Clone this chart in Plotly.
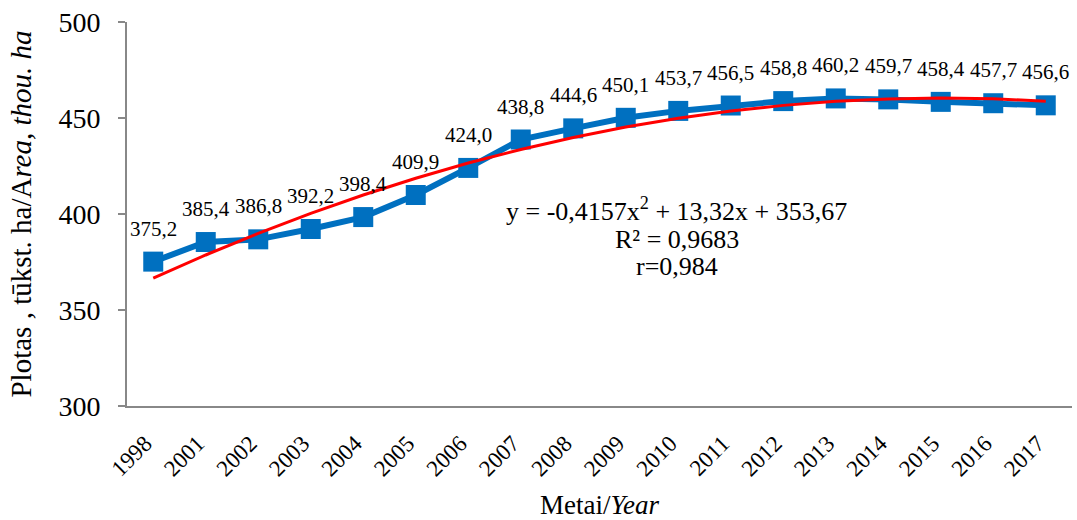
import plotly.graph_objects as go

years = ["1998", "2001", "2002", "2003", "2004", "2005", "2006", "2007", "2008", "2009",
         "2010", "2011", "2012", "2013", "2014", "2015", "2016", "2017"]
area = [375.2, 385.4, 386.8, 392.2, 398.4, 409.9, 424.0, 438.8, 444.6, 450.1,
        453.7, 456.5, 458.8, 460.2, 459.7, 458.4, 457.7, 456.6]
# polynomial trendline coefficients shown on the chart
a2, a1, a0 = -0.4157, 13.32, 353.67
trend = [a2 * (i + 1) ** 2 + a1 * (i + 1) + a0 for i in range(len(years))]
equation_lines = ["y = -0,4157x<sup>2</sup> + 13,32x + 353,67", "R² = 0,9683", "r=0,984"]

font = "Liberation Serif, Times New Roman, serif"

fig = go.Figure()
fig.add_trace(go.Scatter(x=years, y=area, mode="lines+markers",
                         line=dict(color="#0070C0", width=6),
                         marker=dict(symbol="square", size=20, color="#0070C0"),
                         showlegend=False, hoverinfo="skip"))
fig.add_trace(go.Scatter(x=years, y=trend, mode="lines",
                         line=dict(color="#FF0000", width=3),
                         showlegend=False, hoverinfo="skip"))

for i, v in enumerate(area):
    fig.add_annotation(x=i, y=v, text=f"{v:.1f}".replace(".", ","),
                       showarrow=False, yshift=33, xref="x", yref="y",
                       font=dict(family=font, size=21, color="#000"))

for yp, line in zip([0.512, 0.434, 0.362], equation_lines):
    fig.add_annotation(xref="paper", yref="paper", x=0.582, y=yp, text=line,
                       showarrow=False, xanchor="center", yanchor="middle",
                       font=dict(family=font, size=26, color="#000"))

fig.update_layout(
    width=1077, height=520,
    margin=dict(l=127, r=5, t=22, b=114, autoexpand=False),
    plot_bgcolor="white", paper_bgcolor="white",
    font=dict(family=font, color="#000"),
    xaxis=dict(type="category", range=[-0.5, 17.5], showline=True, linecolor="#888", linewidth=2,
               showgrid=False, ticks="", tickangle=-45, automargin=False,
               ticklabelshift=-8, ticklabelstandoff=13,
               tickfont=dict(family=font, size=23),
               title=dict(text="Metai/<i>Year</i>", font=dict(family=font, size=27), standoff=20)),
    yaxis=dict(range=[300, 500], tickvals=[300, 350, 400, 450, 500],
               showline=True, linecolor="#888", linewidth=2, showgrid=False,
               ticks="outside", ticklen=7, tickcolor="#888", tickwidth=2,
               zeroline=False, ticklabelstandoff=12, automargin=False,
               tickfont=dict(family=font, size=28),
               title=dict(text="Plotas , tūkst. ha/A<i>rea, thou. ha</i>",
                          font=dict(family=font, size=29), standoff=18)),
)

fig.write_html("out.html", config={"displayModeBar": False},
               post_script="document.body.style.margin='0';document.body.style.padding='0';")
